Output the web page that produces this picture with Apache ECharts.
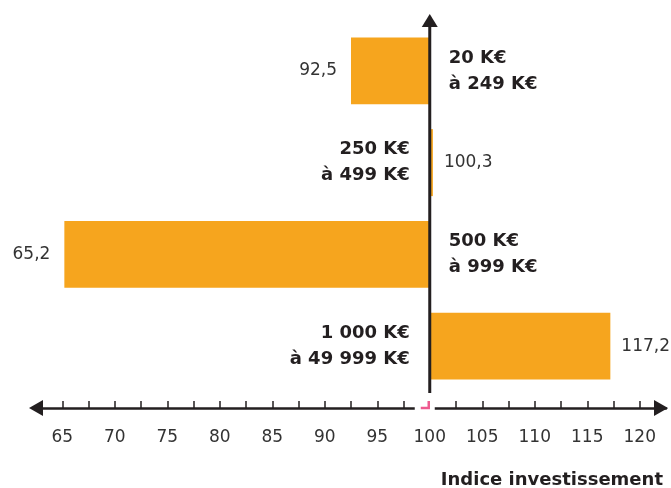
<!DOCTYPE html>
<html>
<head>
<meta charset="utf-8">
<script src="https://cdn.jsdelivr.net/npm/echarts@6/dist/echarts.min.js"></script>
<style>
  html, body { margin: 0; padding: 0; background: #fff; }
  #chart { width: 671px; height: 488px; }
</style>
</head>
<body>
<div id="chart"></div>
<script>
// data
const categories = ['20 K€\nà 249 K€', '250 K€\nà 499 K€', '500 K€\nà 999 K€', '1 000 K€\nà 49 999 K€'];
const values = [92.5, 100.3, 65.2, 117.2];
const baseValue = 100;
const xLabels = [65, 70, 75, 80, 85, 90, 95, 100, 105, 110, 115, 120];
const xTicks = [65, 67.5, 70, 72.5, 75, 77.5, 80, 82.5, 85, 87.5, 90, 92.5, 95, 97.5,
                102.5, 105, 107.5, 110, 112.5, 115, 117.5, 120];

const ORANGE = '#F6A51E';
const INK = '#231f20';
const FONT = '"DejaVu Sans", sans-serif';
const GRID = { left: 36, right: 5, top: 25, bottom: 96 };
const AXIS_OFFSET = 16;

const chart = echarts.init(document.getElementById('chart'), null, { renderer: 'canvas' });

function fmt(v) {
  return v.toFixed(1).replace('.', ',');
}

function renderBar(params, api) {
  const v = api.value(0);
  const idx = api.value(1);
  const p0 = api.coord([baseValue, idx]);
  const p1 = api.coord([v, idx]);
  const h = api.size([0, 1])[1] * 0.73;
  const left = v < baseValue;
  const x = Math.min(p0[0], p1[0]);
  const w = Math.max(Math.abs(p1[0] - p0[0]), 3);
  return {
    type: 'group',
    children: [
      {
        type: 'rect',
        shape: { x: x, y: p0[1] - h / 2, width: w, height: h },
        style: { fill: ORANGE }
      },
      {
        type: 'text',
        style: {
          text: fmt(v),
          x: left ? p1[0] - 14 : Math.max(p1[0], p0[0] + 3) + 11,
          y: p0[1],
          align: left ? 'right' : 'left',
          verticalAlign: 'middle',
          font: '17px ' + FONT,
          fill: '#333'
        }
      },
      {
        type: 'text',
        style: {
          text: categories[idx],
          x: left ? p0[0] + 19 : p0[0] - 20,
          y: p0[1],
          align: left ? 'left' : 'right',
          verticalAlign: 'middle',
          font: 'bold 18px ' + FONT,
          lineHeight: 26,
          fill: INK
        }
      }
    ]
  };
}

chart.setOption({
  animation: false,
  grid: GRID,
  title: {
    text: 'Indice investissement',
    right: 8,
    top: 471,
    padding: 0,
    textStyle: { fontFamily: FONT, fontWeight: 'bold', fontSize: 18, color: INK }
  },
  xAxis: {
    type: 'value',
    min: 62.5,
    max: 122.5,
    offset: AXIS_OFFSET,
    splitLine: { show: false },
    axisLine: {
      show: true,
      symbol: ['triangle', 'triangle'],
      symbolSize: [16, 14],
      symbolOffset: [0, -5],
      lineStyle: { color: INK, width: 2.5 }
    },
    axisTick: {
      show: true,
      inside: true,
      length: 7,
      customValues: xTicks,
      lineStyle: { color: INK, width: 1.5 }
    },
    axisLabel: {
      customValues: xLabels,
      margin: 21,
      color: '#333',
      fontSize: 17,
      fontFamily: FONT
    }
  },
  yAxis: {
    type: 'category',
    data: categories,
    inverse: true,
    show: false
  },
  series: [{
    type: 'custom',
    clip: false,
    renderItem: renderBar,
    encode: { x: 0, y: 1 },
    data: values.map((v, i) => [v, i])
  }]
});

// vertical axis at the base value, gap and mark on the horizontal axis
const x100 = chart.convertToPixel({ xAxisIndex: 0 }, baseValue);
const gridBottomY = 488 - GRID.bottom;
const axisY = gridBottomY + AXIS_OFFSET;
chart.setOption({
  graphic: [
    {
      type: 'rect',
      shape: { x: x100 - 15, y: axisY - 9, width: 20, height: 14 },
      style: { fill: '#fff' },
      z: 100
    },
    {
      type: 'polyline',
      shape: { points: [[x100 - 9, axisY], [x100 - 1, axisY], [x100 - 1, axisY - 7]] },
      style: { stroke: '#ee5a8f', lineWidth: 2.5, fill: null },
      z: 101
    },
    {
      type: 'line',
      shape: { x1: x100, y1: GRID.top - 2, x2: x100, y2: gridBottomY + 1 },
      style: { stroke: INK, lineWidth: 3 },
      z: 101
    },
    {
      type: 'polygon',
      shape: { points: [[x100, GRID.top - 11], [x100 + 8, GRID.top + 2], [x100 - 8, GRID.top + 2]] },
      style: { fill: INK },
      z: 101
    }
  ]
});
</script>
</body>
</html>
